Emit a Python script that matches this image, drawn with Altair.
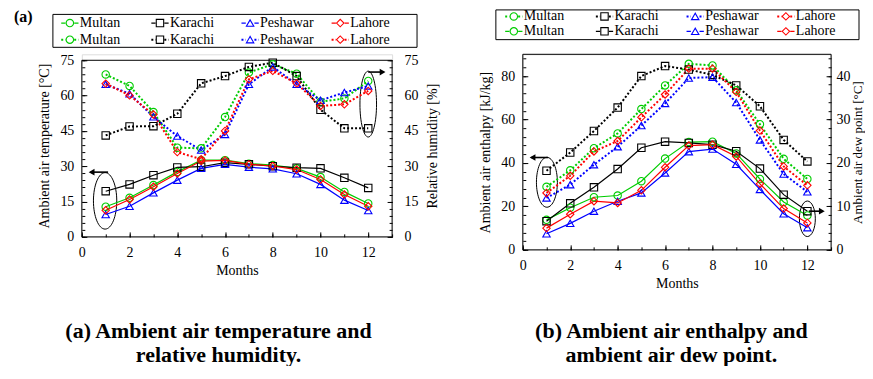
import altair as alt
import pandas as pd

# ---------------- data ----------------
months = list(range(1, 13))
cities = ["Multan", "Karachi", "Peshawar", "Lahore"]
city_colors = ["#00cc00", "#000000", "#0000ff", "#ff0000"]
city_shapes = ["circle", "square", "triangle-up", "diamond"]

temp_multan = [12.8, 16.6, 22.0, 27.6, 32.6, 32.6, 31.1, 30.5, 29.1, 25.4, 19.1, 14.2]
temp_karachi = [19.4, 22.3, 26.2, 29.5, 29.8, 31.5, 30.8, 30.0, 29.4, 29.1, 25.1, 20.8]
temp_peshawar = [9.5, 13.0, 18.7, 24.1, 29.1, 30.8, 29.6, 28.9, 26.8, 22.3, 15.6, 11.2]
temp_lahore = [11.3, 15.9, 21.3, 26.9, 32.2, 32.5, 30.8, 30.1, 28.6, 24.4, 18.0, 13.0]

rh_multan = [69.0, 64.1, 53.0, 37.9, 37.6, 50.9, 69.8, 73.3, 69.3, 57.4, 58.8, 66.2]
rh_karachi = [43.1, 46.9, 47.0, 52.3, 65.2, 68.3, 72.2, 74.0, 68.3, 54.0, 46.1, 46.1]
rh_peshawar = [64.8, 60.8, 51.0, 42.8, 36.9, 43.5, 64.8, 72.2, 64.8, 58.0, 61.3, 64.1]
rh_lahore = [65.1, 60.1, 52.0, 36.0, 33.0, 45.0, 66.9, 70.5, 65.2, 55.6, 56.3, 62.0]

h_multan = [29.0, 36.6, 46.8, 53.6, 64.8, 75.7, 85.6, 84.9, 73.5, 57.8, 41.9, 32.6]
h_karachi = [36.4, 44.8, 54.7, 65.5, 80.0, 84.6, 83.0, 80.5, 75.7, 66.1, 50.6, 40.7]
h_peshawar = [23.9, 30.0, 39.2, 47.5, 57.2, 67.4, 79.1, 79.5, 67.8, 50.6, 34.9, 26.7]
h_lahore = [26.2, 34.1, 45.3, 50.1, 61.0, 71.5, 83.4, 83.4, 72.7, 54.9, 38.4, 29.7]

dp_multan = [6.9, 9.7, 12.1, 12.5, 15.8, 21.0, 24.8, 24.9, 22.2, 16.3, 11.0, 7.9]
dp_karachi = [6.6, 10.7, 14.4, 18.6, 23.5, 24.9, 24.6, 24.2, 22.7, 18.7, 12.7, 8.9]
dp_peshawar = [3.7, 6.1, 8.9, 11.2, 13.1, 17.7, 22.6, 23.2, 19.7, 13.9, 8.3, 5.1]
dp_lahore = [5.0, 8.2, 11.2, 10.8, 13.7, 19.0, 24.0, 24.2, 21.5, 15.2, 9.5, 6.2]

x_major = [0, 2, 4, 6, 8, 10, 12]
x_minor = list(range(0, 14))
a_major = [0, 15, 30, 45, 60, 75]
a_minor = list(range(0, 76, 3))
bl_major = [0, 20, 40, 60, 80]
bl_minor = list(range(0, 89, 4))
br_major = [0, 10, 20, 30, 40]
br_minor = list(range(0, 45, 2))

FONT = "Liberation Serif"
STUB = "M-1,0H-0.5M0.5,0H1"


def long_df(series):
    rows = []
    for c, vals in zip(cities, series):
        for m, v in zip(months, vals):
            rows.append({"city": c, "month": m, "value": v})
    return pd.DataFrame(rows)


COLOR = alt.Color("city:N", scale=alt.Scale(domain=cities, range=city_colors), legend=None)
SHAPE = alt.Shape("city:N", scale=alt.Scale(domain=cities, range=city_shapes), legend=None)


def main_axis(orient, values, title, label_pad, title_pad, title_angle=None, title_size=14):
    kw = dict(orient=orient, values=values, ticks=False, domain=False,
              labelFont=FONT, labelFontSize=14, labelColor="black",
              labelPadding=label_pad, labelFlush=False, labelOverlap=False,
              title=title, titleFont=FONT, titleFontSize=title_size, titleFontWeight="normal",
              titleColor="black", titlePadding=title_pad, grid=False)
    if title_angle is not None:
        kw["titleAngle"] = title_angle
        kw["titleBaseline"] = "top"
    return alt.Axis(**kw)


def tick_axis(orient, values, size):
    return alt.Axis(orient=orient, values=values, ticks=True, tickSize=size, tickColor="black",
                    tickWidth=1, offset=-size, domain=False, labels=False, title=None, grid=False)


def frame(top):
    def make(X, Y):
        d = pd.DataFrame({"month": [0], "month2": [13], "value": [0], "value2": [top]})
        return alt.Chart(d).mark_rect(fillOpacity=0, stroke="black", strokeWidth=1).encode(
            x=X(None), x2="month2:Q", y=Y(None), y2="value2:Q")
    return make


def ellipse(cx, cy, rx, ry):
    r = rx / ry
    path = f"M0,-1A{r:.3f},1 0 1,1 0,1A{r:.3f},1 0 1,1 0,-1Z"

    def make(X, Y):
        d = pd.DataFrame({"month": [cx], "value": [cy]})
        return alt.Chart(d).mark_point(shape=path, size=(2 * ry) ** 2, filled=False,
                                       color="black", strokeWidth=1, opacity=1).encode(
            x=X(None), y=Y(None))
    return make


def arrow(x_tail, x_tip, y, direction):
    back = 1 if direction == "left" else -1

    def make(X, Y):
        d = pd.DataFrame({"month": [x_tail], "month2": [x_tip + back * 0.1], "value": [y]})
        rule = alt.Chart(d).mark_rule(color="black", strokeWidth=1.6).encode(
            x=X(None), x2="month2:Q", y=Y(None))
        h = pd.DataFrame({"month": [x_tip + back * 0.15], "value": [y]})
        head = alt.Chart(h).mark_point(shape="triangle-" + direction, size=45, filled=True,
                                       color="black", opacity=1).encode(x=X(None), y=Y(None))
        return alt.layer(rule, head)
    return make


def series_block(df, ydom, dashed, y_orient, y_title, label_pad, title_pad, ymaj, ymin,
                 with_x, extras, title_angle=None, title_size=14):
    ys = alt.Scale(domain=ydom, nice=False, zero=False)

    def X(axis):
        return alt.X("month:Q", scale=alt.Scale(domain=[0, 13], nice=False, zero=False), axis=axis)

    def Y(axis):
        return alt.Y("value:Q", scale=ys, axis=axis)

    line_kw = dict(strokeWidth=2.0, strokeDash=[2, 2]) if dashed else dict(strokeWidth=1.2)
    base = alt.Chart(df)
    line = base.mark_line(**line_kw).encode(
        x=X(main_axis("bottom", x_major, "Months", 9, 4) if with_x else None),
        y=Y(main_axis(y_orient, ymaj, y_title, label_pad, title_pad, title_angle, title_size)),
        color=COLOR)
    pts = base.mark_point(filled=False, size=55, strokeWidth=1.1, opacity=1).encode(
        x=X(tick_axis("bottom", x_major, 5) if with_x else None),
        y=Y(tick_axis(y_orient, ymaj, 5)),
        color=COLOR, shape=SHAPE)
    minor = base.mark_point(opacity=0).encode(
        x=X(tick_axis("bottom", x_minor, 3) if with_x else None),
        y=Y(tick_axis(y_orient, ymin, 3)))
    layers = [e(X, Y) for e in extras] + [line, pts, minor]
    return alt.layer(*layers).resolve_axis(x="independent", y="independent")


def legend_block(row_dashed, xr, yr, box):
    xs = alt.Scale(domain=[0, 3], range=xr)
    ys = alt.Scale(domain=[0, 1], range=yr)
    rows = pd.DataFrame([{"city": c, "col": i, "row": r, "dashed": d}
                         for r, d in enumerate(row_dashed) for i, c in enumerate(cities)])
    enc = dict(x=alt.X("col:Q", scale=xs, axis=None), y=alt.Y("row:Q", scale=ys, axis=None))
    base = alt.Chart(rows)
    frame_ = alt.Chart(pd.DataFrame({"k": [0]})).mark_rect(
        fillOpacity=0, stroke="black", strokeWidth=1).encode(
        x=alt.value(box[0]), x2=alt.value(box[1]), y=alt.value(box[2]), y2=alt.value(box[3]))
    solid = base.transform_filter("!datum.dashed").mark_point(
        shape=STUB, size=300, strokeWidth=1.2, filled=False, opacity=1).encode(color=COLOR, **enc)
    dots = base.transform_filter("datum.dashed").mark_point(
        shape=STUB, size=300, strokeWidth=2, strokeDash=[2, 2], filled=False, opacity=1).encode(
        color=COLOR, **enc)
    marks = base.mark_point(filled=False, size=55, strokeWidth=1.1, opacity=1).encode(
        color=COLOR, shape=SHAPE, **enc)
    texts = base.mark_text(align="left", baseline="middle", dx=10, font=FONT, fontSize=14,
                           color="black").encode(text="city:N", **enc)
    return alt.layer(frame_, solid, dots, marks, texts)


def text_at(txt, x, y, size, align="center", baseline="middle"):
    return alt.Chart(pd.DataFrame({"k": [0]})).mark_text(
        text=txt, font=FONT, fontSize=size, fontWeight="bold", align=align,
        baseline=baseline, color="black").encode(x=alt.value(x), y=alt.value(y))


# ---------------- panel (a) ----------------
A_TOP = 75 * 183 / 177  # plot area starts 6 px above the frame top of panel (a)
tempA = series_block(long_df([temp_multan, temp_karachi, temp_peshawar, temp_lahore]),
                     [0, A_TOP], False, "left", "Ambient air temperature [°C]", 8, 8,
                     a_major, a_minor, True,
                     [frame(75), ellipse(0.975, 15.3, 11.7, 28.3), arrow(1.1, 0.26, 27.5, "left")])
rhA = series_block(long_df([rh_multan, rh_karachi, rh_peshawar, rh_lahore]),
                   [0, A_TOP], True, "right", "Relative humidity [%]", 12, 7,
                   a_major, a_minor, False,
                   [ellipse(12.0, 56.4, 8.3, 33), arrow(12.0, 12.75, 70, "right")],
                   title_angle=270)
legA = legend_block([False, True], [-12, 259], [-31.3, -14.7], (-29, 336, -40, -7))
panelA = alt.layer(
    tempA, rhA, legA,
    text_at("(a)", -68, -45, 16, align="left", baseline="top"),
    text_at("(a) Ambient air temperature and", 137, 277, 22),
    text_at("relative humidity.", 137, 301, 22),
).resolve_scale(x="independent", y="independent").properties(width=311, height=183)

# ---------------- panel (b) ----------------
enthB = series_block(long_df([h_multan, h_karachi, h_peshawar, h_lahore]),
                     [0, 90], True, "left", "Ambient air enthalpy [kJ/kg]", 8, 8,
                     bl_major, bl_minor, True,
                     [frame(90), ellipse(1.017, 31.1, 10.5, 25), arrow(1.06, 0.26, 42.5, "left"),
                      ellipse(12.0, 14.3, 8, 17.8), arrow(12.06, 12.76, 17.8, "right")])
dewB = series_block(long_df([dp_multan, dp_karachi, dp_peshawar, dp_lahore]),
                    [0, 45], False, "right", "Ambient air dew point [°C]", 5, 1,
                    br_major, br_minor, False, [], title_angle=270, title_size=13)
legB = legend_block([True, False], [-9, 263.7], [-38, -23], (-27, 337, -44.5, -14.7))
panelB = alt.layer(
    enthB, dewB, legB,
    text_at("(b) Ambient air enthalpy and", 149, 277, 22),
    text_at("ambient air dew point.", 149, 301, 22),
).resolve_scale(x="independent", y="independent").properties(width=309, height=196)

chart = alt.hconcat(panelA, panelB, spacing=38).properties(
    padding={"left": 5, "top": 0, "right": 0, "bottom": -1}
).configure_view(stroke="transparent").configure(font=FONT)

chart.save("out.html", embed_options={"renderer": "svg", "actions": False})
